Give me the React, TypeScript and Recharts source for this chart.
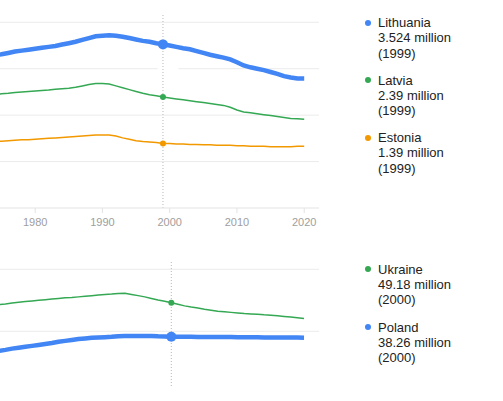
import { LineChart, Line, XAxis, YAxis, CartesianGrid, ReferenceLine, ReferenceArea } from "recharts";

// population, millions
const years = [
  1974, 1975, 1976, 1977, 1978, 1979, 1980, 1981, 1982, 1983, 1984, 1985, 1986, 1987, 1988, 1989,
  1990, 1991, 1992, 1993, 1994, 1995, 1996, 1997, 1998, 1999, 2000, 2001, 2002, 2003, 2004, 2005,
  2006, 2007, 2008, 2009, 2010, 2011, 2012, 2013, 2014, 2015, 2016, 2017, 2018, 2019, 2020,
];
const lithuania = [
  3.29, 3.31, 3.34, 3.37, 3.39, 3.41, 3.43, 3.45, 3.47, 3.49, 3.52, 3.55, 3.58, 3.62, 3.66, 3.7,
  3.71, 3.72, 3.71, 3.69, 3.66, 3.63, 3.6, 3.58, 3.55, 3.524, 3.5, 3.47, 3.44, 3.42, 3.38, 3.34,
  3.3, 3.27, 3.24, 3.2, 3.14, 3.07, 3.03, 3.0, 2.97, 2.93, 2.89, 2.84, 2.81, 2.79, 2.79,
];
const latvia = [
  2.44, 2.46, 2.47, 2.49, 2.5, 2.51, 2.52, 2.53, 2.54, 2.56, 2.57, 2.58, 2.6, 2.63, 2.66, 2.68,
  2.68, 2.67, 2.63, 2.59, 2.55, 2.51, 2.47, 2.44, 2.42, 2.39, 2.37, 2.35, 2.33, 2.31, 2.29, 2.27,
  2.25, 2.23, 2.21, 2.17, 2.11, 2.07, 2.05, 2.03, 2.01, 1.99, 1.97, 1.95, 1.93, 1.92, 1.91,
];
const estonia = [
  1.43, 1.44, 1.45, 1.46, 1.47, 1.47, 1.48, 1.49, 1.5, 1.51, 1.52, 1.53, 1.54, 1.55, 1.56, 1.57,
  1.57, 1.57, 1.55, 1.51, 1.48, 1.45, 1.43, 1.42, 1.41, 1.39, 1.39, 1.38, 1.38, 1.37, 1.37, 1.36,
  1.36, 1.35, 1.35, 1.35, 1.34, 1.34, 1.33, 1.33, 1.33, 1.32, 1.32, 1.32, 1.32, 1.33, 1.33,
];
const ukraine = [
  48.6, 48.8, 49.1, 49.4, 49.6, 49.8, 50.0, 50.2, 50.4, 50.6, 50.8, 50.9, 51.1, 51.3, 51.5, 51.7,
  51.9, 52.0, 52.2, 52.3, 51.9, 51.5, 51.1, 50.6, 50.1, 49.7, 49.18, 48.7, 48.2, 47.8, 47.5, 47.1,
  46.8, 46.5, 46.3, 46.1, 45.9, 45.7, 45.6, 45.5, 45.3, 45.2, 45.0, 44.8, 44.6, 44.4, 44.1,
];
const poland = [
  33.7, 34.0, 34.4, 34.7, 35.0, 35.3, 35.6, 35.9, 36.2, 36.6, 36.9, 37.2, 37.5, 37.7, 37.9, 38.0,
  38.1, 38.2, 38.4, 38.5, 38.5, 38.5, 38.5, 38.5, 38.4, 38.35, 38.26, 38.25, 38.23, 38.2, 38.18, 38.16,
  38.14, 38.12, 38.13, 38.15, 38.04, 38.06, 38.06, 38.04, 38.01, 37.99, 37.97, 37.97, 37.97, 37.97, 37.9,
];
const xTicks = [1980, 1990, 2000, 2010, 2020];
const balticGrid = [1, 2, 3, 4];
const easternGrid = [40, 60];

const baltic = years.map((year, i) => ({ year, lithuania: lithuania[i], latvia: latvia[i], estonia: estonia[i] }));
const eastern = years.map((year, i) => ({ year, ukraine: ukraine[i], poland: poland[i] }));

const BLUE = "#4285f4";
const GREEN = "#34a853";
const ORANGE = "#f29900";
const FONT = '"Liberation Sans", Arial, sans-serif';

const at = (arr: number[], year: number) => arr[years.indexOf(year)];

const topLegend = [
  { name: "Lithuania", value: at(lithuania, 1999), year: 1999, color: BLUE, top: 15 },
  { name: "Latvia", value: at(latvia, 1999), year: 1999, color: GREEN, top: 72.5 },
  { name: "Estonia", value: at(estonia, 1999), year: 1999, color: ORANGE, top: 130 },
];
const bottomLegend = [
  { name: "Ukraine", value: at(ukraine, 2000), year: 2000, color: GREEN, top: 261.7 },
  { name: "Poland", value: at(poland, 2000), year: 2000, color: BLUE, top: 319.5 },
];

function markAt(year: number, color: string, r: number) {
  return (props: any) => {
    const { cx, cy, payload, index } = props;
    if (payload.year !== year) return <g key={`n${index}`} />;
    return <circle key={`d${index}`} cx={cx} cy={cy} r={r} fill={color} />;
  };
}

function LegendItem({ name, value, year, color, top }: any) {
  return (
    <div style={{ position: "absolute", left: 378, top, fontSize: 13, lineHeight: "15.3px", color: "#222" }}>
      <span style={{ position: "absolute", left: -13.3, top: 4.6, width: 6, height: 6, borderRadius: 3, background: color }} />
      <div>{name}</div>
      <div>{value} million</div>
      <div>({year})</div>
    </div>
  );
}

export default function App() {
  return (
    <div style={{ position: "absolute", left: 0, top: 0, width: 503, height: 401, overflow: "hidden", background: "#fff", fontFamily: FONT }}>
      <div style={{ position: "absolute", left: 0, top: 0 }}>
        <LineChart width={503} height={240} data={baltic} margin={{ top: 15, right: 184, bottom: 0, left: 0 }}>
          <CartesianGrid vertical={false} stroke="#ebebeb" horizontalValues={balticGrid} />
          <XAxis
            dataKey="year" type="number" domain={[1974.77, 2022.2]} allowDataOverflow ticks={xTicks}
            height={32} tickSize={5} tickMargin={5} stroke="#e3e3e3"
            tick={{ fontSize: 11, fill: "#9e9e9e", fontFamily: FONT }}
          />
          <YAxis hide domain={[0, 4.157]} ticks={[0, 1, 2, 3, 4]} allowDataOverflow />
          <ReferenceLine x={1999} stroke="#b8b8b8" strokeDasharray="1 2" />
          <ReferenceArea x1={1998.2} x2={2001.3} y1={2.82} y2={3.06} fill="#fff" fillOpacity={1} stroke="none" />
          <Line dataKey="estonia" stroke={ORANGE} strokeWidth={1.5} dot={markAt(1999, ORANGE, 3)} activeDot={false} isAnimationActive={false} />
          <Line dataKey="latvia" stroke={GREEN} strokeWidth={1.5} dot={markAt(1999, GREEN, 3)} activeDot={false} isAnimationActive={false} />
          <Line dataKey="lithuania" stroke={BLUE} strokeWidth={4.5} dot={markAt(1999, BLUE, 5)} activeDot={false} isAnimationActive={false} />
        </LineChart>
      </div>
      <div style={{ position: "absolute", left: 0, top: 240 }}>
        <LineChart width={503} height={161} data={eastern} margin={{ top: 22, right: 184, bottom: 15, left: 0 }}>
          <CartesianGrid vertical={false} stroke="#ebebeb" horizontalValues={easternGrid} />
          <XAxis hide dataKey="year" type="number" domain={[1974.18, 2022.26]} allowDataOverflow />
          <YAxis hide domain={[22.35, 62.35]} ticks={easternGrid} allowDataOverflow />
          <ReferenceLine x={2000} stroke="#b8b8b8" strokeDasharray="1 2" />
          <Line dataKey="ukraine" stroke={GREEN} strokeWidth={1.5} dot={markAt(2000, GREEN, 3)} activeDot={false} isAnimationActive={false} />
          <Line dataKey="poland" stroke={BLUE} strokeWidth={4.5} dot={markAt(2000, BLUE, 5)} activeDot={false} isAnimationActive={false} />
        </LineChart>
      </div>
      {topLegend.map((d) => <LegendItem key={d.name} {...d} />)}
      {bottomLegend.map((d) => <LegendItem key={d.name} {...d} />)}
    </div>
  );
}
